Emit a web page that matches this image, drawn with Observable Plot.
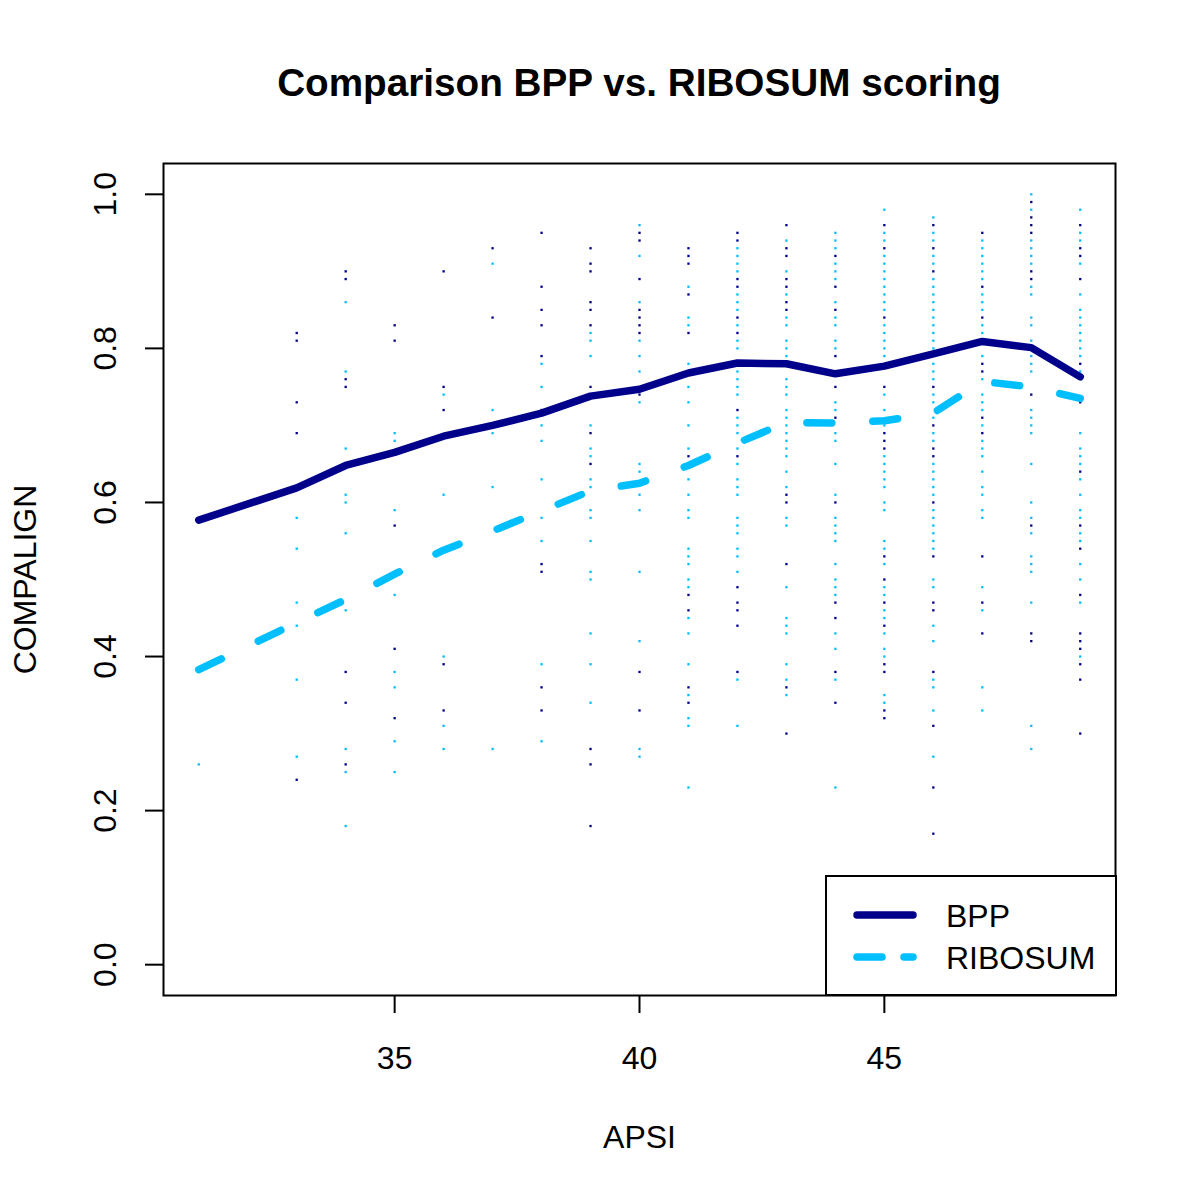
<!DOCTYPE html>
<html>
<head>
<meta charset="utf-8">
<script src="https://cdn.jsdelivr.net/npm/d3@7"></script>
<script src="https://cdn.jsdelivr.net/npm/@observablehq/plot@0.6"></script>
<style>
  html, body { margin: 0; padding: 0; background: #fff; }
  body { width: 1200px; height: 1200px; position: relative; overflow: hidden;
         font-family: "Liberation Sans", Arial, Helvetica, sans-serif; }
  #title { position: absolute; left: 163px; width: 952px; top: 64px; text-align: center;
           font-weight: bold; font-size: 38.7px; line-height: 1; white-space: nowrap; color: #000; }
  #chart { position: absolute; left: 0; top: 130px; }
  #legend { position: absolute; left: 825px; top: 875px; }
</style>
</head>
<body>
<div id="title">Comparison BPP vs. RIBOSUM scoring</div>
<div id="chart"></div>
<svg id="legend" width="292" height="121" xmlns="http://www.w3.org/2000/svg">
  <rect x="1" y="1" width="290" height="119" fill="#fff" stroke="#000" stroke-width="2"></rect>
  <line x1="32" x2="88" y1="40" y2="40" stroke="#00008B" stroke-width="7.5" stroke-linecap="round"></line>
  <line x1="32" x2="88" y1="82" y2="82" stroke="#00BFFF" stroke-width="7.5" stroke-linecap="round" stroke-dasharray="25,22"></line>
  <text x="121" y="51.5" font-size="32" font-family="Liberation Sans, Arial, Helvetica, sans-serif">BPP</text>
  <text x="121" y="93.5" font-size="32" font-family="Liberation Sans, Arial, Helvetica, sans-serif">RIBOSUM</text>
</svg>
<script>
// ---- data ----
const apsi = [31, 33, 34, 35, 36, 37, 38, 39, 40, 41, 42, 43, 44, 45, 46, 47, 48, 49];
const bppMean = [0.577, 0.619, 0.648, 0.665, 0.686, 0.700, 0.716, 0.738, 0.747, 0.768, 0.781, 0.780, 0.767, 0.777, 0.793, 0.809, 0.801, 0.763];
const ribosumMean = [0.383, 0.444, 0.474, 0.507, 0.538, 0.563, 0.589, 0.615, 0.625, 0.648, 0.677, 0.704, 0.703, 0.706, 0.716, 0.757, 0.750, 0.735];

// individual COMPALIGN scores per APSI column (same order as apsi)
const bppScores = [
  [],
  [0.82, 0.81, 0.73, 0.69, 0.24],
  [0.90, 0.89, 0.76, 0.75, 0.38, 0.34, 0.26],
  [0.83, 0.81, 0.57, 0.41, 0.32],
  [0.90, 0.75, 0.72, 0.39, 0.33],
  [0.93, 0.84],
  [0.95, 0.88, 0.85, 0.83, 0.79, 0.72, 0.52, 0.51, 0.36, 0.33],
  [0.93, 0.91, 0.90, 0.86, 0.85, 0.83, 0.75, 0.69, 0.65, 0.28, 0.26, 0.18],
  [0.95, 0.94, 0.89, 0.85, 0.84, 0.83, 0.82, 0.74, 0.38, 0.33],
  [0.93, 0.92, 0.91, 0.87, 0.82, 0.66, 0.48, 0.46, 0.36, 0.34],
  [0.95, 0.94, 0.89, 0.88, 0.84, 0.82, 0.72, 0.66, 0.49, 0.47, 0.46, 0.44, 0.38],
  [0.96, 0.93, 0.92, 0.89, 0.88, 0.86, 0.85, 0.61, 0.60, 0.52, 0.36, 0.30],
  [0.92, 0.88, 0.85, 0.79, 0.75, 0.71, 0.60, 0.47, 0.45, 0.38, 0.34],
  [0.96, 0.93, 0.84, 0.75, 0.69, 0.68, 0.67, 0.53, 0.50, 0.47, 0.44, 0.39, 0.38, 0.33, 0.32],
  [0.96, 0.93, 0.90, 0.75, 0.70, 0.67, 0.66, 0.60, 0.53, 0.47, 0.46, 0.38, 0.31, 0.23, 0.17],
  [0.95, 0.88, 0.84, 0.78, 0.77, 0.71, 0.69, 0.53, 0.47, 0.43],
  [0.99, 0.97, 0.96, 0.95, 0.90, 0.89, 0.74, 0.57, 0.43, 0.42],
  [0.96, 0.93, 0.92, 0.89, 0.78, 0.73, 0.64, 0.57, 0.54, 0.48, 0.43, 0.42, 0.41, 0.39, 0.37, 0.30]
];
const ribosumScores = [
  [0.26],
  [0.58, 0.54, 0.47, 0.44, 0.37, 0.27],
  [0.86, 0.77, 0.67, 0.61, 0.60, 0.56, 0.46, 0.28, 0.25, 0.18],
  [0.69, 0.68, 0.59, 0.48, 0.38, 0.36, 0.29, 0.25],
  [0.74, 0.61, 0.40, 0.31, 0.28],
  [0.91, 0.72, 0.69, 0.62, 0.28],
  [0.78, 0.75, 0.70, 0.68, 0.63, 0.58, 0.55, 0.39, 0.29],
  [0.82, 0.81, 0.79, 0.70, 0.67, 0.66, 0.63, 0.62, 0.59, 0.58, 0.55, 0.51, 0.50, 0.43, 0.39, 0.34],
  [0.96, 0.92, 0.86, 0.81, 0.79, 0.77, 0.73, 0.65, 0.64, 0.61, 0.59, 0.51, 0.42, 0.28, 0.27],
  [0.88, 0.84, 0.83, 0.78, 0.75, 0.73, 0.70, 0.67, 0.63, 0.61, 0.59, 0.58, 0.54, 0.53, 0.52, 0.50, 0.49, 0.45, 0.43, 0.39, 0.35, 0.32, 0.31, 0.23],
  [0.93, 0.92, 0.91, 0.90, 0.87, 0.86, 0.85, 0.83, 0.81, 0.80, 0.77, 0.76, 0.75, 0.74, 0.71, 0.70, 0.69, 0.67, 0.65, 0.63, 0.62, 0.61, 0.58, 0.57, 0.56, 0.54, 0.53, 0.51, 0.37, 0.31],
  [0.94, 0.90, 0.87, 0.84, 0.83, 0.81, 0.80, 0.79, 0.76, 0.75, 0.74, 0.72, 0.71, 0.70, 0.69, 0.68, 0.67, 0.66, 0.64, 0.62, 0.58, 0.57, 0.49, 0.45, 0.44, 0.43, 0.39, 0.37, 0.35],
  [0.95, 0.94, 0.93, 0.91, 0.90, 0.89, 0.86, 0.84, 0.83, 0.81, 0.80, 0.73, 0.72, 0.69, 0.68, 0.65, 0.61, 0.58, 0.57, 0.56, 0.55, 0.52, 0.50, 0.49, 0.48, 0.43, 0.41, 0.37, 0.23],
  [0.98, 0.95, 0.94, 0.92, 0.91, 0.90, 0.89, 0.88, 0.87, 0.86, 0.85, 0.83, 0.82, 0.81, 0.80, 0.79, 0.74, 0.72, 0.70, 0.66, 0.65, 0.64, 0.63, 0.62, 0.60, 0.59, 0.55, 0.54, 0.52, 0.49, 0.48, 0.46, 0.45, 0.43, 0.41, 0.40, 0.35, 0.34],
  [0.97, 0.95, 0.94, 0.92, 0.91, 0.89, 0.88, 0.87, 0.86, 0.85, 0.84, 0.83, 0.82, 0.81, 0.80, 0.78, 0.77, 0.76, 0.74, 0.73, 0.71, 0.69, 0.68, 0.65, 0.64, 0.63, 0.62, 0.61, 0.59, 0.58, 0.57, 0.56, 0.55, 0.54, 0.50, 0.49, 0.44, 0.42, 0.37, 0.36, 0.33, 0.27],
  [0.94, 0.93, 0.92, 0.91, 0.90, 0.89, 0.87, 0.86, 0.85, 0.83, 0.82, 0.79, 0.76, 0.74, 0.73, 0.72, 0.70, 0.68, 0.67, 0.66, 0.64, 0.62, 0.61, 0.59, 0.58, 0.49, 0.46, 0.36, 0.33],
  [1.00, 0.98, 0.94, 0.93, 0.92, 0.91, 0.88, 0.87, 0.84, 0.83, 0.81, 0.79, 0.78, 0.77, 0.72, 0.71, 0.70, 0.69, 0.65, 0.60, 0.58, 0.56, 0.53, 0.52, 0.51, 0.47, 0.31, 0.28],
  [0.98, 0.95, 0.94, 0.91, 0.87, 0.85, 0.84, 0.83, 0.82, 0.81, 0.80, 0.79, 0.77, 0.69, 0.67, 0.66, 0.65, 0.63, 0.61, 0.59, 0.58, 0.56, 0.55, 0.52, 0.50, 0.47, 0.40]
];

const xTicks = [35, 40, 45];
const yTicks = [0, 0.2, 0.4, 0.6, 0.8, 1.0];

const BPP_COLOR = "#00008B";
const RIBO_COLOR = "#00BFFF";

// ---- build tables ----
const toPoints = (scores) => apsi.flatMap((a, i) => scores[i].map(v => ({apsi: a, score: v})));
const bppPts = toPoints(bppScores);
const riboPts = toPoints(ribosumScores);
const bppLine = apsi.map((a, i) => ({apsi: a, score: bppMean[i]}));
const riboLine = apsi.map((a, i) => ({apsi: a, score: ribosumMean[i]}));

const FONT = "Liberation Sans, Arial, Helvetica, sans-serif";

const chart = Plot.plot({
  width: 1200,
  height: 1070,
  marginTop: 33,
  marginBottom: 205,
  marginLeft: 163,
  marginRight: 85,
  style: {fontFamily: FONT, fontSize: "32px", color: "#000", background: "#fff"},
  x: {domain: [30.28, 49.72]},
  y: {domain: [-0.04, 1.04]},
  marks: [
    Plot.dot(bppPts, {x: "apsi", y: "score", symbol: "square", r: 1.3, fill: BPP_COLOR}),
    Plot.dot(riboPts, {x: "apsi", y: "score", symbol: "square", r: 1.3, fill: RIBO_COLOR}),
    Plot.line(bppLine, {x: "apsi", y: "score", stroke: BPP_COLOR, strokeWidth: 7.5,
      strokeLinecap: "round", strokeLinejoin: "round"}),
    Plot.line(riboLine, {x: "apsi", y: "score", stroke: RIBO_COLOR, strokeWidth: 7.5,
      strokeLinecap: "round", strokeLinejoin: "round", strokeDasharray: "25,41"}),
    Plot.frame({stroke: "#000", strokeWidth: 2}),
    Plot.axisX({ticks: xTicks, tickSize: 18, tickPadding: 33, fontSize: 32, strokeWidth: 2,
      label: "APSI", labelAnchor: "center", labelOffset: 152, labelArrow: "none"}),
    Plot.axisY({ticks: yTicks, tickFormat: d3.format(".1f"), tickSize: 18, tickPadding: 30,
      fontSize: 32, strokeWidth: 2, tickRotate: -90, textAnchor: "middle", lineAnchor: "bottom",
      label: "COMPALIGN", labelAnchor: "center", labelOffset: 150, labelArrow: "none"})
  ]
});
document.getElementById("chart").appendChild(chart);
</script>
</body>
</html>
